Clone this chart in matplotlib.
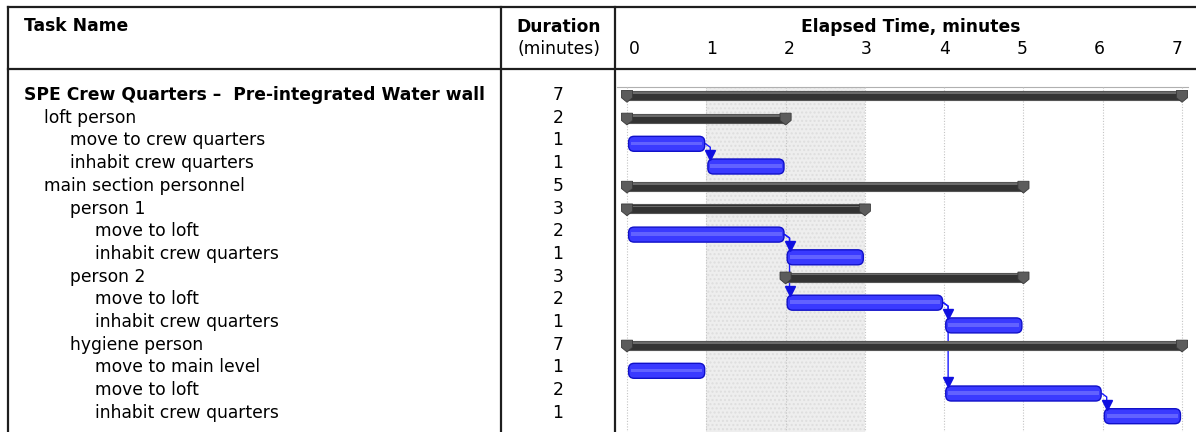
import matplotlib
matplotlib.use("Agg")
import matplotlib.pyplot as plt
from matplotlib.patches import FancyBboxPatch, Rectangle, Polygon
from matplotlib.transforms import blended_transform_factory
import numpy as np

# ---------------- data ----------------
task_names = [
    "SPE Crew Quarters \u2013  Pre-integrated Water wall",
    "loft person",
    "move to crew quarters",
    "inhabit crew quarters",
    "main section personnel",
    "person 1",
    "move to loft",
    "inhabit crew quarters",
    "person 2",
    "move to loft",
    "inhabit crew quarters",
    "hygiene person",
    "move to main level",
    "move to loft",
    "inhabit crew quarters",
]
levels = [0, 1, 2, 2, 1, 2, 3, 3, 2, 3, 3, 2, 3, 3, 3]
starts = [0, 0, 0, 1, 0, 0, 0, 2, 2, 2, 4, 0, 0, 4, 6]
durations = [7, 2, 1, 1, 5, 3, 2, 1, 3, 2, 1, 7, 1, 2, 1]
is_summary = [True, True, False, False, True, True, False, False, True, False, False, True, False, False, False]
# dependency links (from row, to row)
links = [(2, 3), (6, 7), (6, 9), (9, 10), (9, 13), (13, 14)]
time_ticks = [0, 1, 2, 3, 4, 5, 6, 7]
shade_span = (1, 3)

# ---------------- layout ----------------
W, H = 1196, 432
fig = plt.figure(figsize=(W / 100, H / 100), dpi=100)
fig.patch.set_facecolor("white")

def fx(px):
    return px / W

def fy(py):
    return 1 - py / H

row0_px, row_step = 95.0, 22.7
ax_left_px, ax_top_px = 615, 68
x0_px, px_per_min = 627.0, 79.29

ax = fig.add_axes([fx(ax_left_px), 0, fx(W - ax_left_px), (H - ax_top_px) / H])
ax.set_xlim((ax_left_px - x0_px) / px_per_min, (W - x0_px) / px_per_min)
ax.set_ylim((H - row0_px) / row_step, (ax_top_px - row0_px) / row_step)
ax.axis("off")

chart_top = (87 - row0_px) / row_step
ybot = (H - row0_px) / row_step
xmax_line = (1188 - x0_px) / px_per_min
xmin_line = (617 - x0_px) / px_per_min

# shaded non-working region
ax.add_patch(Rectangle((shade_span[0], chart_top), shade_span[1] - shade_span[0], ybot - chart_top,
                       facecolor="#eeeeee", edgecolor="#dedede", hatch="....", linewidth=0, zorder=0))
# chart top line
ax.plot([xmin_line, xmax_line], [chart_top, chart_top], color="#b0b0b0", lw=0.8, zorder=1)
# vertical dotted gridlines
for t in time_ticks:
    ax.plot([t, t], [chart_top, ybot], color="#c4c4c4", lw=0.8, ls=(0, (1, 1.5)), zorder=1)

blue_h = 0.66
sum_h = 0.40
cap_w = 0.07

for i, (s, d, summ) in enumerate(zip(starts, durations, is_summary)):
    e = s + d
    if summ:
        yc = i + 0.02
        ax.add_patch(Rectangle((s, yc - sum_h / 2), d, sum_h, facecolor="#333333",
                               edgecolor="#555555", lw=0.8, zorder=3))
        ax.add_patch(Rectangle((s, yc - sum_h / 2 + 0.06), d, 0.07, facecolor="#6a6a6a",
                               lw=0, zorder=3))
        for xe in (s, e):
            top = yc - sum_h / 2 - 0.02
            poly = Polygon([(xe - cap_w, top), (xe + cap_w, top), (xe + cap_w, top + 0.32),
                            (xe, top + 0.52), (xe - cap_w, top + 0.32)],
                           closed=True, facecolor="#5c5c5c", edgecolor="#3a3a3a", lw=0.6, zorder=4)
            ax.add_patch(poly)
    else:
        yc = i + 0.15
        ax.add_patch(FancyBboxPatch((s + 0.02, yc - blue_h / 2), d - 0.04, blue_h,
                                    boxstyle="round,pad=0,rounding_size=0.07",
                                    mutation_aspect=3.5,
                                    facecolor="#3a3aff", edgecolor="#1010c8", lw=1.0, zorder=3))
        ax.add_patch(Rectangle((s + 0.05, yc - 0.1), d - 0.1, 0.16, facecolor="#8484ff",
                               lw=0, alpha=0.55, zorder=3))

# dependency links
link_dx = 0.05
for a, b in links:
    xe = starts[a] + durations[a]
    ya = a + 0.15
    yb_top = b + 0.15 - blue_h / 2
    xl = xe + link_dx
    ax.plot([xe - 0.01, xl, xl], [ya, ya + 0.15, yb_top - 0.2], color="#1a1aff", lw=1.0, zorder=2,
            solid_joinstyle="round")
    ax.plot([xl], [yb_top - 0.17], marker="v", ms=7, color="#1010e0", mec="#1010e0", zorder=5)

# ---------------- table text ----------------
fam = ["DejaVu Sans"]
fs = 12.3
indent_px = [24, 44, 70, 95]
tr = blended_transform_factory(fig.transFigure, ax.transData)
for i, (name, lv, d) in enumerate(zip(task_names, levels, durations)):
    ax.text(fx(indent_px[lv]), i, name, transform=tr, ha="left", va="center", fontsize=fs,
            family=fam, fontweight="bold" if lv == 0 else "normal", color="black", clip_on=False)
    ax.text(fx(558), i, str(d), transform=tr, ha="center", va="center", fontsize=fs,
            family=fam, color="black", clip_on=False)

# header
fig.text(fx(24), fy(26), "Task Name", ha="left", va="center", fontsize=fs, family=fam, fontweight="bold")
fig.text(fx(559), fy(27), "Duration", ha="center", va="center", fontsize=fs, family=fam, fontweight="bold")
fig.text(fx(559), fy(49), "(minutes)", ha="center", va="center", fontsize=fs, family=fam)
fig.text(fx(911), fy(27), "Elapsed Time, minutes", ha="center", va="center", fontsize=fs, family=fam,
         fontweight="bold")
trh = blended_transform_factory(ax.transData, fig.transFigure)
for t in time_ticks:
    ax.text(0.088 + 0.978 * t, fy(49), str(t), transform=trh, ha="center", va="center", fontsize=fs,
            family=fam, clip_on=False)

# table grid lines
lc, lw = "#1e1e1e", 1.6
fig.add_artist(plt.Line2D([fx(8), 1], [fy(7), fy(7)], color=lc, lw=lw))
fig.add_artist(plt.Line2D([fx(8), 1], [fy(68.5), fy(68.5)], color=lc, lw=lw))
for xv in (8, 501, 615):
    fig.add_artist(plt.Line2D([fx(xv), fx(xv)], [fy(7), 0], color=lc, lw=lw))

fig.savefig("out.png", dpi=100)
